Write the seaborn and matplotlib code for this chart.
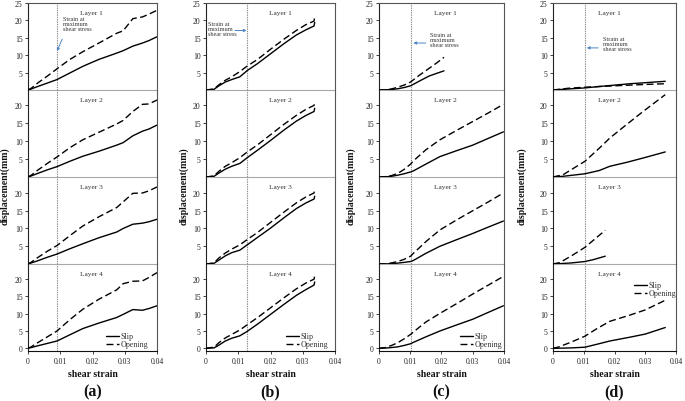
import numpy as np
import pandas as pd
import matplotlib
matplotlib.use("Agg")
import matplotlib.pyplot as plt
import seaborn as sns
from matplotlib.lines import Line2D

# ---------------- data ----------------
panel_labels = ["(a)", "(b)", "(c)", "(d)"]
layer_names = ["Layer 1", "Layer 2", "Layer 3", "Layer 4"]
series_names = ["Slip", "Opening"]
max_stress_strain = [0.009, 0.0128, 0.0101, 0.0104]
x_ticks = [0, 0.01, 0.02, 0.03, 0.04]
x_tick_labels = ["0", "0.01", "0.02", "0.03", "0.04"]
y_ticks_top = [5, 10, 15, 20, 25]
y_ticks_mid = [5, 10, 15, 20]
y_ticks_bottom = [0, 5, 10, 15, 20]
note_text = "Strain at\nmaximum\nshear stress"

# (a)
a_strain = [0, 0.001, 0.003, 0.006, 0.009, 0.013, 0.017, 0.022, 0.0275, 0.0295, 0.0325, 0.0355, 0.0375, 0.040]
a1_slip = [0, 0.3, 1.0, 2.0, 3.0, 4.9, 6.8, 8.8, 10.6, 11.3, 12.6, 13.5, 14.2, 15.3]
a1_open = [0, 0.5, 2.0, 4.0, 6.1, 8.8, 11.0, 13.5, 16.3, 17.0, 20.5, 21.0, 21.8, 22.9]
a2_slip = [0, 0.3, 1.0, 2.0, 2.9, 4.4, 5.8, 7.2, 8.9, 9.6, 11.5, 12.8, 13.4, 14.5]
a2_open = [0, 0.5, 1.9, 3.8, 5.6, 8.2, 10.4, 12.5, 14.8, 15.8, 18.3, 20.3, 20.4, 21.5]
a3_slip = [0, 0.3, 0.9, 1.9, 2.8, 4.3, 5.7, 7.4, 9.0, 10.0, 11.2, 11.5, 11.9, 12.6]
a3_open = [0, 0.5, 1.8, 3.6, 5.2, 8.0, 10.7, 13.3, 15.9, 17.5, 19.9, 20.0, 20.6, 21.7]
a4_slip = [0, 0.2, 0.7, 1.4, 2.1, 3.9, 5.7, 7.3, 8.9, 9.8, 11.2, 11.0, 11.5, 12.3]
a4_open = [0, 0.4, 1.6, 3.3, 5.0, 8.3, 11.3, 14.2, 16.9, 18.7, 19.4, 19.5, 20.5, 21.9]

# (b)
b_strain = [0, 0.0025, 0.004, 0.006, 0.008, 0.0105, 0.0128, 0.016, 0.020, 0.024, 0.028, 0.031, 0.0335, 0.0337]
b1_slip = [0, 0.2, 1.2, 2.3, 3.0, 3.8, 5.6, 7.6, 10.4, 13.2, 15.8, 17.3, 18.4, 19.4]
b1_open = [0, 0.3, 1.5, 2.8, 3.8, 5.3, 6.9, 8.8, 11.7, 14.5, 17.1, 18.8, 19.8, 21.1]
b2_slip = [0, 0.2, 1.1, 2.2, 3.0, 3.8, 5.4, 7.5, 10.2, 13.0, 15.6, 17.2, 18.3, 19.2]
b2_open = [0, 0.3, 1.6, 3.0, 4.0, 5.4, 7.0, 9.0, 11.8, 14.6, 17.2, 18.9, 20.0, 20.9]
b3_slip = [0, 0.2, 1.1, 2.3, 3.2, 3.9, 5.4, 7.5, 10.1, 12.9, 15.6, 17.2, 18.3, 19.1]
b3_open = [0, 0.3, 1.7, 3.1, 4.2, 5.4, 6.9, 8.9, 11.7, 14.5, 17.2, 18.9, 20.0, 21.0]
b4_slip = [0, 0.1, 0.9, 2.1, 2.9, 3.6, 4.9, 7.0, 9.8, 12.6, 15.3, 17.0, 18.3, 19.2]
b4_open = [0, 0.3, 1.6, 3.0, 4.0, 5.3, 6.8, 8.9, 11.7, 14.5, 17.2, 18.9, 20.0, 21.0]

# (c)
c1_strain = [0, 0.002, 0.004, 0.006, 0.008, 0.0101, 0.013, 0.016, 0.0185, 0.0208]
c1_slip = [0, 0.05, 0.15, 0.35, 0.7, 1.2, 2.6, 4.0, 4.8, 5.5]
c1_open = [0, 0.05, 0.3, 0.8, 1.4, 2.3, 4.3, 6.2, 7.8, 9.4]
c_strain = [0, 0.002, 0.004, 0.006, 0.008, 0.0101, 0.011, 0.015, 0.0195, 0.025, 0.030, 0.035, 0.0398]
c2_slip = [0, 0.05, 0.2, 0.5, 0.9, 1.4, 1.7, 3.6, 5.7, 7.4, 8.9, 10.8, 12.6]
c2_open = [0, 0.1, 0.4, 1.0, 2.1, 3.6, 4.5, 7.6, 10.4, 13.1, 15.5, 17.9, 20.3]
c3_slip = [0, 0.02, 0.1, 0.25, 0.45, 0.7, 1.0, 3.0, 5.0, 6.9, 8.6, 10.4, 12.1]
c3_open = [0, 0.05, 0.3, 0.7, 1.3, 2.2, 3.0, 6.3, 9.6, 12.5, 15.0, 17.5, 20.0]
c4_slip = [0, 0.05, 0.2, 0.4, 0.8, 1.3, 1.7, 3.3, 5.0, 6.8, 8.4, 10.4, 12.3]
c4_open = [0, 0.2, 0.8, 1.6, 2.7, 4.0, 4.7, 7.6, 10.1, 13.0, 15.7, 18.3, 20.8]

# (d)
d1_strain = [0, 0.005, 0.0104, 0.015, 0.020, 0.025, 0.030, 0.0365]
d1_slip = [0, 0.3, 0.6, 1.0, 1.4, 1.8, 2.1, 2.5]
d1_open = [0, 0.5, 0.8, 1.0, 1.2, 1.4, 1.6, 1.8]
d2_strain = [0, 0.0033, 0.0104, 0.015, 0.0185, 0.024, 0.0293, 0.0365]
d2_slip = [0, 0.2, 0.9, 1.8, 3.0, 4.1, 5.3, 7.0]
d2_open = [0, 0.65, 4.4, 8.0, 10.9, 14.7, 18.3, 23.0]
d3_strain = [0, 0.0022, 0.006, 0.0104, 0.013, 0.017]
d3_slip = [0, 0.1, 0.3, 0.7, 1.2, 2.2]
d3_open = [0, 0.4, 2.3, 4.7, 6.6, 9.5]
d4_strain = [0, 0.0016, 0.006, 0.0104, 0.0145, 0.0185, 0.025, 0.030, 0.0365]
d4_slip = [0, 0.0, 0.1, 0.3, 1.2, 2.1, 3.2, 4.1, 6.0]
d4_open = [0, 0.3, 1.8, 3.5, 5.8, 7.8, 9.6, 11.1, 13.9]

panels = [
    [(a_strain, a1_slip, a1_open), (a_strain, a2_slip, a2_open),
     (a_strain, a3_slip, a3_open), (a_strain, a4_slip, a4_open)],
    [(b_strain, b1_slip, b1_open), (b_strain, b2_slip, b2_open),
     (b_strain, b3_slip, b3_open), (b_strain, b4_slip, b4_open)],
    [(c1_strain, c1_slip, c1_open), (c_strain, c2_slip, c2_open),
     (c_strain, c3_slip, c3_open), (c_strain, c4_slip, c4_open)],
    [(d1_strain, d1_slip, d1_open), (d2_strain, d2_slip, d2_open),
     (d3_strain, d3_slip, d3_open), (d4_strain, d4_slip, d4_open)],
]

# ---------------- layout / style ----------------
sns.set_theme(style="ticks")
plt.rcParams["font.family"] = ["Liberation Serif", "DejaVu Serif"]
plt.rcParams["axes.linewidth"] = 0.8

W, H = 685, 402
fig = plt.figure(figsize=(W / 100, H / 100), dpi=100)
fig.patch.set_facecolor("white")

lefts = [28, 206, 379, 553]
widths = [129, 129, 125, 123]
top0, layer_h = 4, 87
ylims = [(0, 25), (0, 24.3), (0, 24.5), (-0.8, 24.4)]
title_x = [0.49, 0.58, 0.53, 0.46]
dash_open = (5, 2.5)
ink = "#222222"

# annotation: (text x, text top y, arrow tail, arrow head)
notes = [
    (0.0108, 21.3, (0.0106, 14.6), (0.0090, 11.2)),
    (0.0006, 19.9, (0.0090, 17.1), (0.0126, 17.1)),
    (0.0163, 16.6, (0.0150, 13.5), (0.0110, 13.5)),
    (0.0162, 15.6, (0.0147, 12.1), (0.0110, 12.1)),
]
legend_anchor = [((0.93, 0.03), "lower right"), ((0.945, 0.03), "lower right"),
                 ((0.985, 0.03), "lower right"), ((1.0, 0.80), "upper right")]

for ci in range(4):
    for li in range(4):
        top = top0 + li * layer_h
        ax = fig.add_axes([lefts[ci] / W, 1 - (top + layer_h) / H,
                           widths[ci] / W, layer_h / H])
        ax.set_facecolor("none")
        strain, slip, opening = panels[ci][li]
        n = len(strain)
        df = pd.DataFrame({
            "strain": list(strain) * 2,
            "disp": list(slip) + list(opening),
            "series": [series_names[0]] * n + [series_names[1]] * n,
        })
        ax.axvline(max_stress_strain[ci], color="#8c8c8c", lw=0.8,
                   ls=(0, (1.2, 0.9)), zorder=1)
        sns.lineplot(data=df, x="strain", y="disp", style="series",
                     style_order=series_names,
                     dashes={series_names[0]: "", series_names[1]: dash_open},
                     color="black", lw=1.0, estimator=None, sort=False,
                     legend=False, ax=ax, zorder=3)
        ax.set_xlabel("")
        ax.set_ylabel("")
        ax.set_xlim(0, 0.04)
        ax.set_ylim(*ylims[li])
        if li == 0:
            ax.set_yticks(y_ticks_top)
        elif li == 3:
            ax.set_yticks(y_ticks_bottom)
        else:
            ax.set_yticks(y_ticks_mid)
        ax.set_xticks(x_ticks)
        ax.tick_params(axis="y", direction="out", length=2.5, width=0.6,
                       labelsize=5.5, pad=1.5, colors=ink)
        if li < 3:
            ax.tick_params(axis="x", bottom=False, labelbottom=False)
            ax.spines["bottom"].set_color("#a8a8a8")
        else:
            ax.set_xticklabels(x_tick_labels)
            ax.tick_params(axis="x", direction="out", length=2.5, width=0.6,
                           labelsize=5.5, pad=2, colors=ink)
            ax.spines["bottom"].set_color("#111111")
        if li > 0:
            ax.spines["top"].set_visible(False)
        else:
            ax.spines["top"].set_color("#555555")
        ax.spines["left"].set_color("#222222")
        ax.spines["right"].set_color("#555555")
        for s in ax.spines.values():
            s.set_linewidth(0.8)
        ax.text(title_x[ci], 0.89, layer_names[li], transform=ax.transAxes,
                ha="center", va="center", fontsize=5.3, color="#333333")

        if li == 0:
            tx, ty, tail, head = notes[ci]
            ax.text(tx, ty, note_text, ha="left", va="top", fontsize=4.5,
                    color="#333333", linespacing=1.0)
            ax.annotate("", xy=head, xytext=tail,
                        arrowprops=dict(arrowstyle="-|>", color="#4f86c6",
                                        lw=0.7, mutation_scale=4,
                                        shrinkA=0, shrinkB=0))
        if li == 3:
            handles = [Line2D([], [], color="black", lw=1.0),
                       Line2D([], [], color="black", lw=1.0, dashes=dash_open)]
            anchor, loc = legend_anchor[ci]
            leg = ax.legend(handles, series_names, loc=loc,
                            bbox_to_anchor=anchor, frameon=False,
                            fontsize=5.8, handlelength=1.6, handletextpad=0.15,
                            labelspacing=0.0, borderpad=0, borderaxespad=0)
            for t in leg.get_texts():
                t.set_color("#333333")

    cx = (lefts[ci] + widths[ci] / 2) / W
    fig.text(cx, 1 - 375 / H, "shear strain", ha="center", va="center",
             fontsize=7, fontweight="bold", color="#111111")
    fig.text(cx, 1 - 392 / H, panel_labels[ci], ha="center", va="center",
             fontsize=11.5, fontweight="bold", color="#111111")

ylabel_x = [5, 184, 351, 522]
for ci in range(4):
    fig.text(ylabel_x[ci] / W, 1 - 186 / H, "displacement(mm)", rotation=90,
             ha="center", va="center", fontsize=7, fontweight="bold",
             color="#111111")

fig.savefig("out.png", dpi=100, facecolor="white")
